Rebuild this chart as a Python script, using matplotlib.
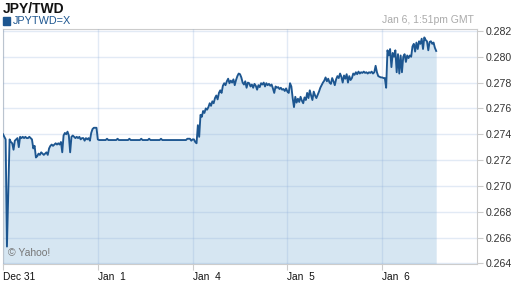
import numpy as np
import matplotlib
matplotlib.use("Agg")
import matplotlib.pyplot as plt

plt.rcParams['font.family'] = ['Liberation Sans', 'DejaVu Sans']

# JPY/TWD quotes, one every 20 minutes (72 per trading day)
dec31 = [0.27400, 0.27380, 0.27360, 0.26530, 0.26950, 0.27360, 0.27340, 0.27330,
         0.27280, 0.27350, 0.27360, 0.27370, 0.27300, 0.27380, 0.27370, 0.27380,
         0.27370, 0.27380, 0.27370, 0.27370, 0.27380, 0.27370, 0.27360, 0.27290,
         0.27310, 0.27220, 0.27230, 0.27250, 0.27240, 0.27260, 0.27250, 0.27240,
         0.27250, 0.27260, 0.27240, 0.27290, 0.27310, 0.27320, 0.27310, 0.27320,
         0.27330, 0.27320, 0.27330, 0.27320, 0.27340, 0.27260, 0.27390, 0.27410,
         0.27400, 0.27420, 0.27390, 0.27260, 0.27380, 0.27390, 0.27380, 0.27370,
         0.27380, 0.27370, 0.27380, 0.27360, 0.27370, 0.27370, 0.27350, 0.27370,
         0.27360, 0.27370, 0.27350, 0.27410, 0.27440, 0.27450, 0.27450, 0.27450]
jan1 = [0.27360, 0.27355, 0.27355, 0.27355, 0.27355, 0.27355, 0.27355, 0.27365,
        0.27355, 0.27355, 0.27355, 0.27355, 0.27355, 0.27355, 0.27355, 0.27365,
        0.27355, 0.27355, 0.27355, 0.27355, 0.27355, 0.27355, 0.27355, 0.27355,
        0.27365, 0.27355, 0.27355, 0.27355, 0.27355, 0.27355, 0.27355, 0.27355,
        0.27355, 0.27365, 0.27355, 0.27355, 0.27355, 0.27355, 0.27355, 0.27365,
        0.27355, 0.27355, 0.27355, 0.27355, 0.27355, 0.27355, 0.27355, 0.27355,
        0.27365, 0.27355, 0.27355, 0.27355, 0.27355, 0.27355, 0.27355, 0.27355,
        0.27355, 0.27355, 0.27355, 0.27355, 0.27355, 0.27355, 0.27355, 0.27355,
        0.27355, 0.27355, 0.27355, 0.27355, 0.27365, 0.27365, 0.27365, 0.27350]
jan4 = [0.27360, 0.27360, 0.27340, 0.27330, 0.27470, 0.27380, 0.27550, 0.27535,
        0.27580, 0.27565, 0.27600, 0.27590, 0.27610, 0.27640, 0.27620, 0.27655,
        0.27640, 0.27680, 0.27700, 0.27670, 0.27720, 0.27740, 0.27720, 0.27775,
        0.27795, 0.27780, 0.27810, 0.27830, 0.27795, 0.27815, 0.27800, 0.27825,
        0.27780, 0.27820, 0.27850, 0.27870, 0.27865, 0.27840, 0.27800, 0.27785,
        0.27810, 0.27760, 0.27800, 0.27795, 0.27770, 0.27785, 0.27760, 0.27790,
        0.27775, 0.27745, 0.27780, 0.27765, 0.27795, 0.27785, 0.27800, 0.27770,
        0.27795, 0.27780, 0.27790, 0.27775, 0.27785, 0.27755, 0.27720, 0.27770,
        0.27760, 0.27765, 0.27750, 0.27760, 0.27745, 0.27750, 0.27735, 0.27755]
jan5 = [0.27730, 0.27720, 0.27795, 0.27770, 0.27680, 0.27610, 0.27690, 0.27645,
        0.27675, 0.27650, 0.27690, 0.27660, 0.27640, 0.27685, 0.27665, 0.27720,
        0.27680, 0.27740, 0.27700, 0.27665, 0.27730, 0.27700, 0.27680, 0.27705,
        0.27730, 0.27760, 0.27780, 0.27800, 0.27815, 0.27840, 0.27810, 0.27830,
        0.27800, 0.27790, 0.27835, 0.27810, 0.27780, 0.27825, 0.27850, 0.27835,
        0.27870, 0.27845, 0.27800, 0.27855, 0.27830, 0.27865, 0.27800, 0.27850,
        0.27820, 0.27835, 0.27870, 0.27860, 0.27880, 0.27865, 0.27885, 0.27870,
        0.27880, 0.27875, 0.27885, 0.27875, 0.27880, 0.27870, 0.27880, 0.27875,
        0.27885, 0.27870, 0.27880, 0.27930, 0.27880, 0.27850, 0.27845, 0.27840]
jan6 = [0.27840, 0.27835, 0.27835, 0.27760, 0.28050, 0.28010, 0.28060, 0.27920,
        0.28030, 0.28000, 0.28050, 0.27880, 0.28020, 0.27870, 0.28010, 0.27880,
        0.28000, 0.28020, 0.27960, 0.28010, 0.27990, 0.28010, 0.28000, 0.28080,
        0.28100, 0.28040, 0.28110, 0.28060, 0.28120, 0.28100, 0.28140, 0.28060,
        0.28150, 0.28130, 0.28120, 0.28050, 0.28115, 0.28120, 0.28100, 0.28110,
        0.28070, 0.28045]

days = [dec31, jan1, jan4, jan5, jan6]
day_labels = ['Dec 31', 'Jan  1', 'Jan  4', 'Jan  5', 'Jan  6']
y_ticks = [0.264, 0.266, 0.268, 0.270, 0.272, 0.274, 0.276, 0.278, 0.280, 0.282]

# x in trading-day units (weekend skipped)
xs, ys = [], []
for d, vals in enumerate(days):
    xs.extend(d + np.arange(len(vals)) / 72.0)
    ys.extend(vals)
xs = np.array(xs)
ys = np.array(ys)

fig = plt.figure(figsize=(5.12, 2.88), dpi=100)
ax = fig.add_axes([3 / 512, 24 / 288, 474 / 512, 235 / 288])

ax.fill_between(xs, ys, 0.2635, color='#d6e6f2', lw=0, zorder=1)
ax.plot(xs, ys, color='#1d5690', lw=1.35, zorder=3)

ax.set_xlim(0, 5)
ax.set_ylim(0.26395, 0.28215)

ax.set_xticks(range(len(day_labels)))
ax.set_xticklabels(day_labels, ha='left')
ax.set_yticks(y_ticks)
ax.set_yticklabels(['%.3f' % v for v in y_ticks])
ax.yaxis.tick_right()
ax.tick_params(axis='y', length=4, width=0.8, color='#cccccc', pad=2,
               labelsize=7.6, labelcolor='#333333')
ax.tick_params(axis='x', length=4, width=0.8, color='#cccccc', pad=2,
               labelsize=7.3, labelcolor='#111111')

ax.grid(True, color=(0.55, 0.68, 0.85), alpha=0.25, lw=1.0, zorder=2)
ax.set_axisbelow(False)
for sp in ax.spines.values():
    sp.set_color('#cccccc')
    sp.set_linewidth(0.8)

fig.text(3 / 512, 1 - 9 / 288, 'JPY/TWD', fontsize=10, fontweight='bold',
         color='#111111', va='center', ha='left')
fig.patches.append(plt.Rectangle((3 / 512, 1 - 25 / 288), 7 / 512, 8 / 288,
                                 transform=fig.transFigure, color='#1d5690'))
fig.text(13 / 512, 1 - 21 / 288, 'JPYTWD=X', fontsize=7.8, color='#1d5690',
         va='center', ha='left')
fig.text(474 / 512, 1 - 20 / 288, 'Jan 6, 1:51pm GMT', fontsize=7.5,
         color='#aaaaaa', va='center', ha='right')
ax.text(0.05, 0.2648, '\u00a9 Yahoo!', fontsize=7.5, color='#777777',
        va='center', ha='left', zorder=4)

fig.savefig('out.png', dpi=100)
